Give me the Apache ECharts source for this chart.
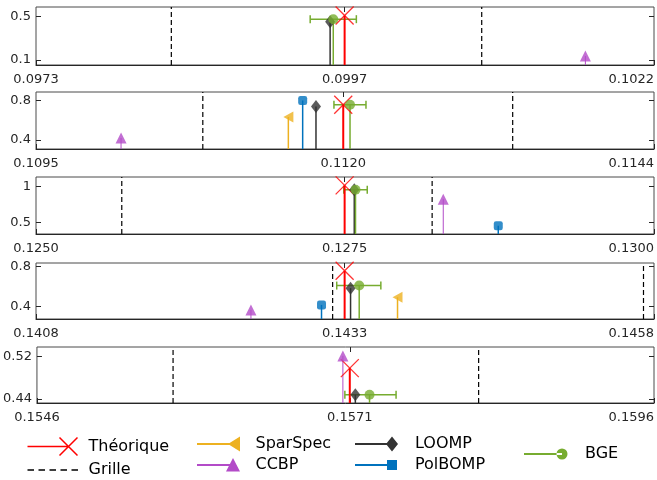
<!DOCTYPE html>
<html><head><meta charset="utf-8">
<script src="https://cdn.jsdelivr.net/npm/echarts@6/dist/echarts.min.js"></script>
<style>html,body{margin:0;padding:0;background:#fff}#chart{width:657px;height:480px}</style>
</head><body><div id="chart"></div>
<script>
// ---- data ----
const xMin = [0.0973, 0.10951, 0.1250, 0.1408, 0.1546];
const xMax = [0.1022, 0.11443, 0.1300, 0.1458, 0.1596];
const xTickLabels = [
  ['0.0973', '0.0997', '0.1022'],
  ['0.1095', '0.1120', '0.1144'],
  ['0.1250', '0.1275', '0.1300'],
  ['0.1408', '0.1433', '0.1458'],
  ['0.1546', '0.1571', '0.1596']
];
const yMin = [0.054, 0.308, 0.336, 0.276, 0.4325];
const yMax = [0.587, 0.889, 1.132, 0.837, 0.5377];
const yTicks = [[0.1, 0.5], [0.4, 0.8], [0.5, 1], [0.4, 0.8], [0.44, 0.52]];
const yTickLabels = [['0.1', '0.5'], ['0.4', '0.8'], ['0.5', '1'], ['0.4', '0.8'], ['0.44', '0.52']];
const grille = [[0.098373, 0.100834], [0.110838, 0.113305], [0.125694, 0.128205], [0.1432, 0.145715], [0.155703, 0.158179]];
// [panel, frequency, amplitude]
const theorique = [[0, 0.099747, 0.509], [1, 0.111956, 0.759], [2, 0.127497, 1.015], [3, 0.143297, 0.76], [4, 0.157135, 0.498]];
const sparspec = [[1, 0.111519, 0.634], [3, 0.143725, 0.494]];
const ccbp = [[0, 0.101656, 0.137], [1, 0.110187, 0.42], [2, 0.128295, 0.823], [3, 0.142539, 0.367], [4, 0.157079, 0.521]];
const loomp = [[0, 0.099632, 0.451], [1, 0.111739, 0.742], [2, 0.127575, 0.954], [3, 0.143345, 0.585], [4, 0.15718, 0.448]];
const polbomp = [[1, 0.111633, 0.803], [2, 0.12874, 0.452], [3, 0.14311, 0.417]];
const bge = [[0, 0.099657, 0.475], [1, 0.11201, 0.759], [2, 0.127585, 0.954], [3, 0.143415, 0.611], [4, 0.157295, 0.448]];
const bgeLow = [0.099474, 0.111882, 0.12749, 0.143233, 0.157095];
const bgeHigh = [0.09984, 0.112137, 0.12768, 0.14359, 0.15751];

// ---- layout / style ----
const FONT = 'DejaVu Sans';
const AX = '#262626';
const tops = [7, 92, 177, 263, 347], heights = [58, 57, 57, 56, 56];
const C = {red: '#ff0000', orange: '#EDB120', purple: '#B34BC8', dark: '#333333', blue: '#0072BD', green: '#77AC30'};

const grids = [], xAxes = [], yAxes = [], series = [];
function nearestIdx(arr, v) { let k = 0, b = Infinity; arr.forEach((t, i) => { const d = Math.abs(t - v); if (d < b) { b = d; k = i; } }); return k; }

for (let p = 0; p < 5; p++) {
  grids.push({left: 36, width: 618, top: tops[p], height: heights[p], show: true, borderColor: '#4a4a4a', borderWidth: 1});
  const center = theorique.find(d => d[0] === p)[1];
  const xt = [xMin[p], center, xMax[p]];
  xAxes.push({type: 'value', gridIndex: p, min: xMin[p], max: xMax[p], position: 'bottom',
    axisLine: {show: true, onZero: false, lineStyle: {color: AX, width: 1}},
    axisTick: {show: true, inside: true, length: 5, customValues: xt, lineStyle: {color: AX}},
    axisLabel: {show: true, customValues: xt, margin: 8, fontSize: 13, fontFamily: FONT, color: AX,
      alignMaxLabel: 'right',
      formatter: v => xTickLabels[p][nearestIdx(xt, v)]},
    splitLine: {show: false}});
  xAxes.push({type: 'value', gridIndex: p, min: xMin[p], max: xMax[p], position: 'top',
    axisLine: {show: false}, axisTick: {show: true, inside: true, length: 5, customValues: [center], lineStyle: {color: AX}},
    axisLabel: {show: false}, splitLine: {show: false}});
  yAxes.push({type: 'value', gridIndex: p, min: yMin[p], max: yMax[p], position: 'left',
    axisLine: {show: false},
    axisTick: {show: true, inside: true, length: 5, customValues: yTicks[p], lineStyle: {color: AX}},
    axisLabel: {show: true, customValues: yTicks[p], margin: 5, fontSize: 13, fontFamily: FONT, color: AX,
      formatter: v => yTickLabels[p][nearestIdx(yTicks[p], v)]},
    splitLine: {show: false}});
  yAxes.push({type: 'value', gridIndex: p, min: yMin[p], max: yMax[p], position: 'right',
    axisLine: {show: false},
    axisTick: {show: true, inside: true, length: 5, customValues: yTicks[p], lineStyle: {color: AX}},
    axisLabel: {show: false}, splitLine: {show: false}});
}

// Grille (dashed vertical lines)
for (let p = 0; p < 5; p++) {
  series.push({type: 'custom', name: 'Grille', xAxisIndex: 2 * p, yAxisIndex: 2 * p, silent: true,
    data: grille[p].map(v => [v]),
    renderItem: (params, api) => {
      const a = api.coord([api.value(0), yMin[p]]), b = api.coord([api.value(0), yMax[p]]);
      return {type: 'line', shape: {x1: a[0], y1: a[1], x2: b[0], y2: b[1]},
        style: {stroke: '#000', lineWidth: 1.2, lineDash: [5, 3]}};
    }});
}
// BGE error bars
for (let p = 0; p < 5; p++) {
  const b = bge.find(d => d[0] === p);
  series.push({type: 'custom', name: 'BGE', xAxisIndex: 2 * p, yAxisIndex: 2 * p, silent: true,
    data: [[bgeLow[p], bgeHigh[p], b[2]]],
    renderItem: (params, api) => {
      const l = api.coord([api.value(0), api.value(2)]), r = api.coord([api.value(1), api.value(2)]);
      const st = {stroke: C.green, lineWidth: 1.5};
      return {type: 'group', children: [
        {type: 'line', shape: {x1: l[0], y1: l[1], x2: r[0], y2: r[1]}, style: st},
        {type: 'line', shape: {x1: l[0], y1: l[1] - 4, x2: l[0], y2: l[1] + 4}, style: st},
        {type: 'line', shape: {x1: r[0], y1: r[1] - 4, x2: r[0], y2: r[1] + 4}, style: st}]};
    }});
}

function addMethod(name, data, color, stemW, marker) {
  for (let p = 0; p < 5; p++) {
    const pts = data.filter(d => d[0] === p).map(d => [d[1], d[2]]);
    if (!pts.length) continue;
    series.push({type: 'custom', name, xAxisIndex: 2 * p, yAxisIndex: 2 * p, silent: true, data: pts,
      renderItem: (params, api) => {
        const a = api.coord([api.value(0), api.value(1)]), b = api.coord([api.value(0), yMin[p]]);
        return {type: 'line', shape: {x1: a[0], y1: a[1], x2: b[0], y2: b[1]}, style: {stroke: color, lineWidth: stemW}};
      }});
    series.push(Object.assign({type: 'scatter', name, xAxisIndex: 2 * p, yAxisIndex: 2 * p, silent: true, data: pts,
      itemStyle: {color: color}}, marker));
  }
}
addMethod('Théorique', theorique, C.red, 2, {symbol: 'path://M0,0L18,18M18,0L0,18', symbolSize: 18,
  itemStyle: {color: 'none', borderColor: C.red, borderWidth: 1.3}});
addMethod('SparSpec', sparspec, C.orange, 1.5, {symbol: 'path://M0,5.5L10,0L10,11Z', symbolSize: [10, 11]});
addMethod('CCBP', ccbp, C.purple, 1, {symbol: 'triangle', symbolSize: [11, 11]});
addMethod('LOOMP', loomp, C.dark, 1.5, {symbol: 'diamond', symbolSize: [10, 13]});
addMethod('PolBOMP', polbomp, C.blue, 1.5, {symbol: 'roundRect', symbolSize: 9});
addMethod('BGE', bge, C.green, 1.5, {symbol: 'circle', symbolSize: 10});

// legend icons (line + marker at right end)
const anchors = W => `M0,0l0.01,0l0,0.01z M${W},18l-0.01,0l0,-0.01z `;
const icons = {
  theo: 'path://M0,9L41,9M32,0L50,18M50,0L32,18M56,18l0.01,0',
  grille: 'path://' + anchors(56) + 'M0,8.3h6.5v1.4h-6.5z M11,8.3h6.5v1.4h-6.5z M22,8.3h6.5v1.4h-6.5z M33,8.3h6.5v1.4h-6.5z M44,8.3h6.5v1.4h-6.5z',
  spar: 'path://' + anchors(53.5) + 'M0,8.1h37v1.8h-37z M31,9L43,1.5L43,16.5Z',
  ccbp: 'path://' + anchors(53.5) + 'M0,8.1h36v1.8h-36z M29,15.5L36,2L43,15.5Z',
  loomp: 'path://' + anchors(55) + 'M0,8.1h37v1.8h-37z M37,1.5L43,9L37,16.5L31,9Z',
  pol: 'path://' + anchors(55) + 'M0,8.1h37v1.8h-37z M32,4h10v10h-10z',
  bge: 'path://' + anchors(56) + 'M0,8.1h38v1.8h-38z M32.5,9a5.5,5.5 0 1,0 11,0a5.5,5.5 0 1,0 -11,0Z'
};
const legendBase = {orient: 'vertical', itemHeight: 18, itemGap: 3, selectedMode: false, padding: 0,
  textStyle: {fontSize: 16, fontFamily: FONT, color: '#000'}};
const fillStyle = c => ({color: c, borderWidth: 0});
const legends = [
  Object.assign({}, legendBase, {left: 25, top: 435, itemWidth: 56, data: [
    {name: 'Théorique', icon: icons.theo, itemStyle: {color: 'none', borderColor: C.red, borderWidth: 1.5}},
    {name: 'Grille', icon: icons.grille, itemStyle: fillStyle('#000')}]}),
  Object.assign({}, legendBase, {left: 197, top: 435, itemWidth: 53.5, data: [
    {name: 'SparSpec', icon: icons.spar, itemStyle: fillStyle(C.orange)},
    {name: 'CCBP', icon: icons.ccbp, itemStyle: fillStyle(C.purple)}]}),
  Object.assign({}, legendBase, {left: 355, top: 435, itemWidth: 55, data: [
    {name: 'LOOMP', icon: icons.loomp, itemStyle: fillStyle(C.dark)},
    {name: 'PolBOMP', icon: icons.pol, itemStyle: fillStyle(C.blue)}]}),
  Object.assign({}, legendBase, {left: 524, top: 445, itemWidth: 56, data: [
    {name: 'BGE', icon: icons.bge, itemStyle: fillStyle(C.green)}]})
];

const chart = echarts.init(document.getElementById('chart'));
chart.setOption({
  animation: false,
  backgroundColor: '#fff',
  grid: grids, xAxis: xAxes, yAxis: yAxes,
  legend: legends,
  series: series
});
</script></body></html>
